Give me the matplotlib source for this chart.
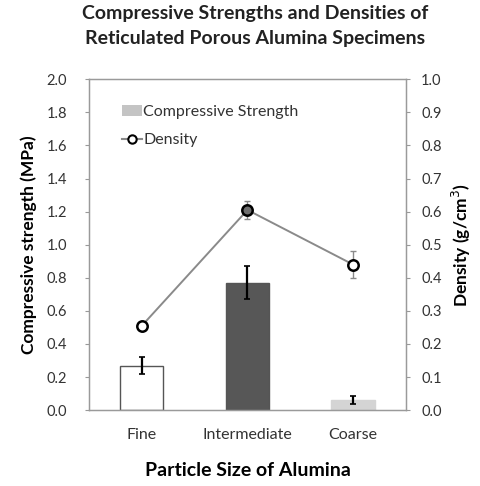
import matplotlib.pyplot as plt
from matplotlib.patches import Patch
from matplotlib.lines import Line2D

plt.rcParams['font.family'] = ['Lato', 'DejaVu Sans']

categories = ['Fine', 'Intermediate', 'Coarse']
strength = [0.27, 0.77, 0.06]
strength_err = [0.05, 0.10, 0.025]
density = [0.255, 0.605, 0.44]
density_err = [0.008, 0.027, 0.04]

bar_colors = ['white', '#575757', '#d4d4d4']
marker_faces = ['white', '#6e6e6e', 'white']

fig = plt.figure(figsize=(4.81, 4.86), dpi=100)
ax = fig.add_axes([0.185, 0.156, 0.659, 0.681])
x = range(len(categories))

ax.bar(x, strength, width=0.41, color=bar_colors, edgecolor=['#555555', '#555555', '#d4d4d4'],
       linewidth=1.0, zorder=2)
ax.errorbar(x, strength, yerr=strength_err, fmt='none', ecolor='black', elinewidth=1.6,
            capsize=2, capthick=1.2, zorder=3)
ax.set_xlim(-0.5, 2.5)
ax.set_ylim(0, 2.0)
ax.set_yticks([i * 0.2 for i in range(11)])
ax.set_yticklabels([f'{i * 0.2:.1f}' for i in range(11)])
ax.set_xticks(list(x))
ax.set_xticklabels(categories)
ax.tick_params(axis='x', length=0, pad=13, labelsize=11.5, colors='#333333')
ax.tick_params(axis='y', length=3, width=0.8, color='#999999', labelsize=10.5,
               labelcolor='#333333', pad=13)
for s in ax.spines.values():
    s.set_color('#9a9a9a')
    s.set_linewidth(1.0)
ax.set_ylabel('Compressive strength (MPa)', fontsize=12.5, fontweight='bold', labelpad=7)
ax.set_xlabel('Particle Size of Alumina', fontsize=14, fontweight='bold', labelpad=14)

ax2 = ax.twinx()
ax2.plot(x, density, color='#8a8a8a', linewidth=1.4, zorder=3)
ax2.errorbar(x, density, yerr=density_err, fmt='none', ecolor='#8a8a8a', elinewidth=1.0,
             capsize=2, capthick=1.0, zorder=3)
for xi, yi, fc in zip(x, density, marker_faces):
    ax2.plot(xi, yi, 'o', markersize=7.5, markerfacecolor=fc, markeredgecolor='black',
             markeredgewidth=1.8, zorder=4)
ax2.set_ylim(0, 1.0)
ax2.set_yticks([i * 0.1 for i in range(11)])
ax2.set_yticklabels([f'{i * 0.1:.1f}' for i in range(11)])
ax2.tick_params(axis='y', length=3, width=0.8, color='#999999', labelsize=10.5,
                labelcolor='#333333', pad=8)
for s in ax2.spines.values():
    s.set_color('#9a9a9a')
ax2.set_ylabel('Density (g/cm$^3$)', fontsize=12.5, fontweight='bold', labelpad=6)

handles = [Patch(facecolor='#c4c4c4', edgecolor='none'),
           Line2D([], [], color='#8a8a8a', marker='o', markerfacecolor='white',
                  markeredgecolor='black', markeredgewidth=1.5, markersize=6)]
ax2.legend(handles, ['Compressive Strength', 'Density'], loc='upper left',
           bbox_to_anchor=(0.06, 0.965), frameon=False, fontsize=11.5,
           handlelength=1.2, handletextpad=0.1, labelspacing=0.85, labelcolor='#333333')

fig.suptitle('Compressive Strengths and Densities of\nReticulated Porous Alumina Specimens',
             x=0.53, y=0.99, fontsize=14, fontweight='bold', color='#222222', linespacing=1.55)

fig.savefig('out.png', dpi=100)
